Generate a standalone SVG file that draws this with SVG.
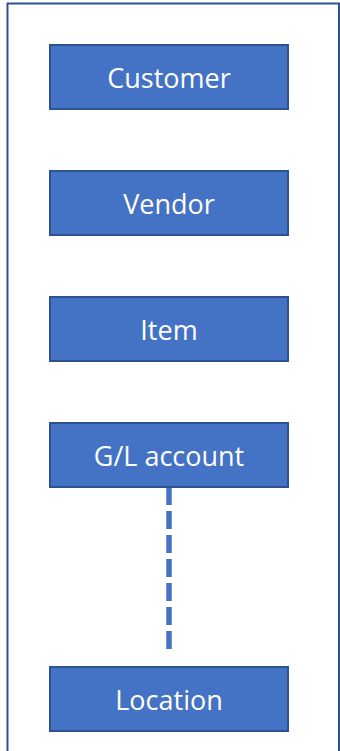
<svg xmlns="http://www.w3.org/2000/svg" width="340" height="751" viewBox="0 0 340 751">
<style>
.box{fill:#4472C4;stroke:#2F528F;stroke-width:2}
.lbl{fill:#FFFFFF;font-family:"Open Sans","Liberation Sans",sans-serif;font-size:27px;text-anchor:middle}
.conn{stroke:#4472C4;stroke-width:5.5;stroke-dasharray:18 6;fill:none}
</style>
<rect x="0" y="0" width="340" height="751" fill="#FFFFFF"/>
<rect id="frame" x="7.5" y="3.5" width="331.5" height="760" fill="none" stroke="#2F528F" stroke-width="2"/>
<g id="connectors">
<line class="conn" x1="169" y1="487" x2="169" y2="649"/>
</g>
<g id="customer"><rect class="box" x="50" y="45" width="238" height="64"/><text class="lbl" x="169" y="88">Customer</text></g>
<g id="vendor"><rect class="box" x="50" y="171" width="238" height="64"/><text class="lbl" x="169" y="214">Vendor</text></g>
<g id="item"><rect class="box" x="50" y="297" width="238" height="64"/><text class="lbl" x="169" y="340">Item</text></g>
<g id="gl-account"><rect class="box" x="50" y="423" width="238" height="64"/><text class="lbl" x="169" y="466">G/L account</text></g>
<g id="location"><rect class="box" x="50" y="667" width="238" height="64"/><text class="lbl" x="169" y="710">Location</text></g>
</svg>
